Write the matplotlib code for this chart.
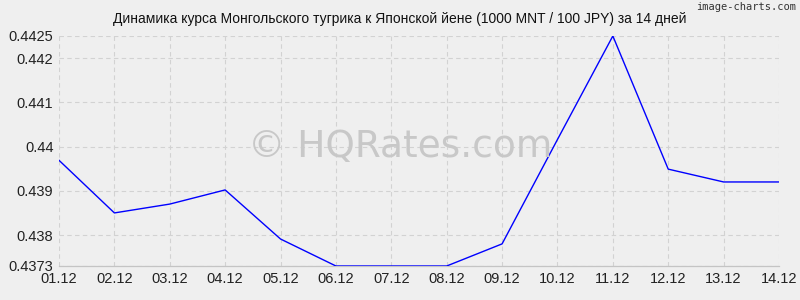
import matplotlib.pyplot as plt

# Data
dates = ['01.12', '02.12', '03.12', '04.12', '05.12', '06.12', '07.12',
         '08.12', '09.12', '10.12', '11.12', '12.12', '13.12', '14.12']
rates = [0.43969, 0.4385, 0.4387, 0.43902, 0.43791, 0.4373, 0.4373,
         0.4373, 0.43780, 0.44016, 0.4425, 0.43949, 0.4392, 0.4392]
yticks = [0.4373, 0.438, 0.439, 0.44, 0.441, 0.442, 0.4425]
ytick_labels = ['0.4373', '0.438', '0.439', '0.44', '0.441', '0.442', '0.4425']

plt.rcParams['font.family'] = ['Liberation Sans', 'DejaVu Sans']

fig = plt.figure(figsize=(8, 3), dpi=100, facecolor='#efefef')
ax = fig.add_axes([59/800, 1-266/300, 720/800, 230/300])
ax.set_facecolor('#efefef')

x = list(range(len(dates)))
ax.plot(x, rates, color='#0000ff', linewidth=1, zorder=3)

ax.set_xlim(0, len(dates) - 1)
ax.set_ylim(0.4373, 0.4425)
ax.set_xticks(x)
ax.set_xticklabels(dates, fontsize=10.5)
ax.set_yticks(yticks)
ax.set_yticklabels(ytick_labels, fontsize=10.5)
ax.tick_params(length=0, pad=4, colors='#222222')

ax.grid(color='#d2d2d2', linestyle=(0, (4, 3)), linewidth=0.8)
for side in ['top', 'right', 'left']:
    ax.spines[side].set_visible(False)
ax.spines['bottom'].set_color('#c4c4c4')
ax.spines['bottom'].set_linewidth(0.9)

# watermark, centred on the figure
fig.text(0.5, 1 - 147/300, '© HQRates.com', fontsize=27,
         color='#c8c8c8', ha='center', va='center', zorder=1,
         family=['DejaVu Sans'])

fig.text(0.5, 1 - 19/300, 'Динамика курса Монгольского тугрика к Японской йене (1000 MNT / 100 JPY) за 14 дней',
         fontsize=10, ha='center', va='center', color='#111111')
fig.text(796/800, 1 - 7/300, 'image-charts.com', fontsize=7.5, ha='right', va='center',
         color='#333333', family=['DejaVu Sans Mono'])

fig.savefig('out.png', dpi=100, facecolor='#efefef')
